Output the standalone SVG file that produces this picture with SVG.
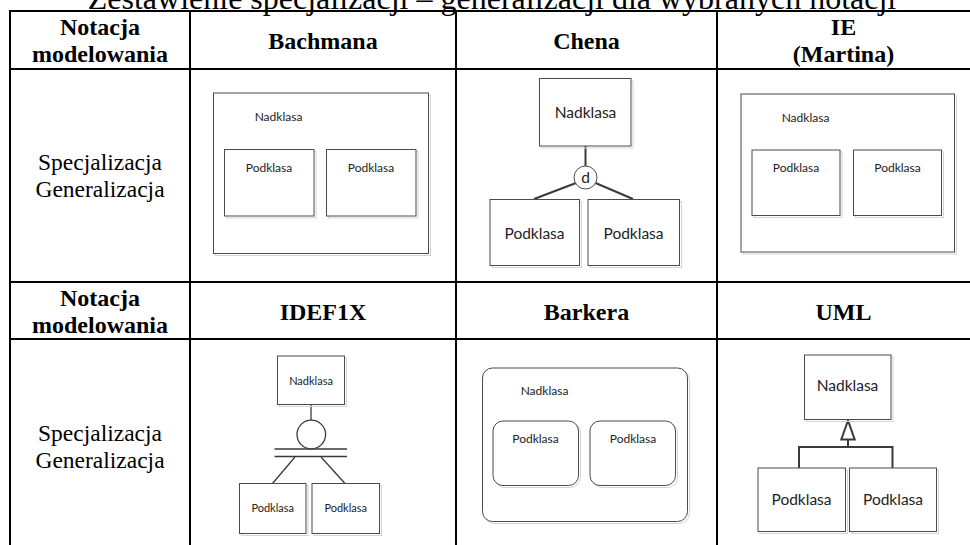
<svg xmlns="http://www.w3.org/2000/svg" width="970" height="545" viewBox="0 0 970 545">
  <style>
    .grid { stroke: #000; stroke-width: 2; fill: none; }
    .title { font-family: "Liberation Serif", "Times New Roman", serif; font-size: 32px; fill: #000; }
    .hdr { font-family: "Liberation Serif", "Times New Roman", serif; font-size: 24px; font-weight: bold; fill: #000; text-anchor: middle; }
    .row { font-family: "Liberation Serif", "Times New Roman", serif; font-size: 23.5px; fill: #000; text-anchor: middle; }
    .box { fill: #fff; stroke: #4a4a4a; stroke-width: 1; }
    .shadow { fill: none; stroke: #d4d4d4; stroke-width: 1; }
    .lbl { font-family: Lato, "Liberation Sans", sans-serif; fill: #222; text-anchor: middle; }
    .s11 { font-size: 11px; }
    .s12 { font-size: 12px; }
    .s15 { font-size: 15.5px; }
    .thick { stroke: #3a3a3a; stroke-width: 2; fill: none; }
    .thin { stroke: #3a3a3a; stroke-width: 1.3; fill: none; }
  </style>

  <rect width="970" height="545" fill="#fff"/>

  <!-- Title, partly above the top edge -->
  <text class="title" x="492" y="8.5" text-anchor="middle">Zestawienie specjalizacji – generalizacji dla wybranych notacji</text>

  <!-- Table grid -->
  <g id="table-grid" class="grid">
    <line x1="9" y1="11" x2="970" y2="11"/>
    <line x1="9" y1="69" x2="970" y2="69"/>
    <line x1="9" y1="282" x2="970" y2="282"/>
    <line x1="9" y1="339" x2="970" y2="339"/>
    <line x1="10" y1="10" x2="10" y2="545"/>
    <line x1="190" y1="10" x2="190" y2="545"/>
    <line x1="456" y1="10" x2="456" y2="545"/>
    <line x1="717" y1="10" x2="717" y2="545"/>
  </g>

  <!-- Header rows -->
  <g id="header-1">
    <text class="hdr" x="100" y="35">Notacja</text>
    <text class="hdr" x="100" y="62">modelowania</text>
    <text class="hdr" x="323" y="49">Bachmana</text>
    <text class="hdr" x="586.5" y="49">Chena</text>
    <text class="hdr" x="843.5" y="35">IE</text>
    <text class="hdr" x="843.5" y="62">(Martina)</text>
  </g>
  <g id="header-2">
    <text class="hdr" x="100" y="306">Notacja</text>
    <text class="hdr" x="100" y="333">modelowania</text>
    <text class="hdr" x="323" y="320">IDEF1X</text>
    <text class="hdr" x="586.5" y="320">Barkera</text>
    <text class="hdr" x="843.5" y="320">UML</text>
  </g>

  <!-- Row captions -->
  <g id="caption-1">
    <text class="row" x="100" y="170">Specjalizacja</text>
    <text class="row" x="100" y="197">Generalizacja</text>
  </g>
  <g id="caption-2">
    <text class="row" x="100" y="441">Specjalizacja</text>
    <text class="row" x="100" y="468">Generalizacja</text>
  </g>

  <!-- Bachman: nested boxes -->
  <g id="bachman-super">
    <rect class="shadow" x="215.5" y="95" width="215" height="160.5"/>
    <rect class="box" x="213.5" y="93" width="215" height="160.5"/>
    <text class="lbl s12" x="278.5" y="120.5">Nadklasa</text>
  </g>
  <g id="bachman-sub-1">
    <rect class="shadow" x="226.5" y="151.5" width="89.5" height="66.5"/>
    <rect class="box" x="224.5" y="149.5" width="89.5" height="66.5"/>
    <text class="lbl s12" x="269" y="171.5">Podklasa</text>
  </g>
  <g id="bachman-sub-2">
    <rect class="shadow" x="328.5" y="151.5" width="89.5" height="66.5"/>
    <rect class="box" x="326.5" y="149.5" width="89.5" height="66.5"/>
    <text class="lbl s12" x="371" y="171.5">Podklasa</text>
  </g>

  <!-- Chen -->
  <g id="chen-connectors">
    <line class="thick" x1="585.5" y1="146" x2="585.5" y2="166"/>
    <line class="thick" x1="576" y1="183" x2="534" y2="199"/>
    <line class="thick" x1="595.5" y1="183" x2="633" y2="199"/>
  </g>
  <g id="chen-super">
    <rect class="shadow" x="541.5" y="80.5" width="91.5" height="67.5"/>
    <rect class="box" x="539.5" y="78.5" width="91.5" height="67.5"/>
    <text class="lbl s15" x="585.5" y="117.5">Nadklasa</text>
  </g>
  <g id="chen-d">
    <circle cx="585.5" cy="177.5" r="11.5" fill="#fff" stroke="#4a4a4a" stroke-width="1"/>
    <text class="lbl s15" x="585.5" y="182.5">d</text>
  </g>
  <g id="chen-sub-1">
    <rect class="shadow" x="492" y="201.5" width="89.5" height="66"/>
    <rect class="box" x="490" y="199.5" width="89.5" height="66"/>
    <text class="lbl s15" x="534.5" y="238.5">Podklasa</text>
  </g>
  <g id="chen-sub-2">
    <rect class="shadow" x="590" y="201.5" width="91.5" height="66"/>
    <rect class="box" x="588" y="199.5" width="91.5" height="66"/>
    <text class="lbl s15" x="633.5" y="238.5">Podklasa</text>
  </g>

  <!-- IE (Martin): nested boxes -->
  <g id="ie-super">
    <rect class="shadow" x="743" y="96" width="213.5" height="158"/>
    <rect class="box" x="741" y="94" width="213.5" height="158"/>
    <text class="lbl s12" x="805.5" y="122">Nadklasa</text>
  </g>
  <g id="ie-sub-1">
    <rect class="shadow" x="754" y="152" width="88" height="65.5"/>
    <rect class="box" x="752" y="150" width="88" height="65.5"/>
    <text class="lbl s12" x="796" y="171.5">Podklasa</text>
  </g>
  <g id="ie-sub-2">
    <rect class="shadow" x="855.5" y="152" width="88" height="65.5"/>
    <rect class="box" x="853.5" y="150" width="88" height="65.5"/>
    <text class="lbl s12" x="897.5" y="171.5">Podklasa</text>
  </g>

  <!-- IDEF1X -->
  <g id="idef1x-connectors">
    <line class="thin" x1="311" y1="404" x2="311" y2="420"/>
    <line class="thin" x1="274.5" y1="449" x2="347" y2="449"/>
    <line class="thin" x1="274.5" y1="456.5" x2="347" y2="456.5"/>
    <line class="thin" x1="295" y1="457" x2="272.5" y2="483.5"/>
    <line class="thin" x1="321" y1="457" x2="345" y2="483.5"/>
  </g>
  <g id="idef1x-discriminator">
    <circle cx="311.3" cy="434.5" r="14.3" fill="#fff" stroke="#3a3a3a" stroke-width="1.3"/>
  </g>
  <g id="idef1x-super">
    <rect class="shadow" x="279.5" y="358" width="67" height="48.5"/>
    <rect class="box" x="277.5" y="356" width="67" height="48.5"/>
    <text class="lbl s11" x="311" y="384.5">Nadklasa</text>
  </g>
  <g id="idef1x-sub-1">
    <rect class="shadow" x="241.5" y="485.5" width="66.5" height="50"/>
    <rect class="box" x="239.5" y="483.5" width="66.5" height="50"/>
    <text class="lbl s11" x="272.7" y="512">Podklasa</text>
  </g>
  <g id="idef1x-sub-2">
    <rect class="shadow" x="314" y="485.5" width="67.5" height="50"/>
    <rect class="box" x="312" y="483.5" width="67.5" height="50"/>
    <text class="lbl s11" x="345.7" y="512">Podklasa</text>
  </g>

  <!-- Barker: nested rounded boxes -->
  <g id="barker-super">
    <rect class="shadow" x="484.5" y="370" width="205" height="153.5" rx="10"/>
    <rect class="box" x="482.5" y="368" width="205" height="153.5" rx="10"/>
    <text class="lbl s12" x="544.5" y="395">Nadklasa</text>
  </g>
  <g id="barker-sub-1">
    <rect class="shadow" x="495" y="423" width="85.5" height="64.5" rx="10"/>
    <rect class="box" x="493" y="421" width="85.5" height="64.5" rx="10"/>
    <text class="lbl s12" x="535.5" y="442.5">Podklasa</text>
  </g>
  <g id="barker-sub-2">
    <rect class="shadow" x="592" y="423" width="85.5" height="64.5" rx="10"/>
    <rect class="box" x="590" y="421" width="85.5" height="64.5" rx="10"/>
    <text class="lbl s12" x="633" y="442.5">Podklasa</text>
  </g>

  <!-- UML -->
  <g id="uml-connectors">
    <polyline class="thick" points="799,468 799,447 892.5,447 892.5,468"/>
    <line class="thick" x1="848" y1="439.5" x2="848" y2="447"/>
    <polygon class="thick" points="848,420.5 841.3,439.5 854.7,439.5" fill="#fff"/>
  </g>
  <g id="uml-super">
    <rect class="shadow" x="806.5" y="357" width="86.5" height="64.5"/>
    <rect class="box" x="804.5" y="355" width="86.5" height="64.5"/>
    <text class="lbl s15" x="847.5" y="391">Nadklasa</text>
  </g>
  <g id="uml-sub-1">
    <rect class="shadow" x="760" y="470" width="87.5" height="63.5"/>
    <rect class="box" x="758" y="468" width="87.5" height="63.5"/>
    <text class="lbl s15" x="801.5" y="504.5">Podklasa</text>
  </g>
  <g id="uml-sub-2">
    <rect class="shadow" x="851.5" y="470" width="87" height="63.5"/>
    <rect class="box" x="849.5" y="468" width="87" height="63.5"/>
    <text class="lbl s15" x="893" y="504.5">Podklasa</text>
  </g>
</svg>
